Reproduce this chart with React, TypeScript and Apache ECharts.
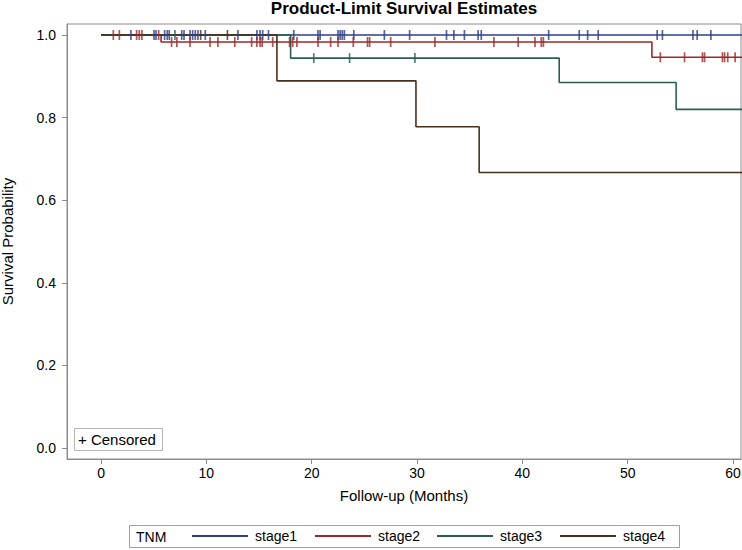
import React, { useEffect, useRef } from "react";
import * as echarts from "echarts";

const stageNames = ["stage1", "stage2", "stage3", "stage4"];
const stageColors = ["#2c3f88", "#9a2b2b", "#2a5e54", "#4a2f1d"];

// Kaplan-Meier step curves: [time, survival]
const stage1Curve: [number, number][] = [[0, 1], [61, 1]];
const stage2Curve: [number, number][] = [[0, 1], [5.7, 0.983], [52.3, 0.946], [61, 0.946]];
const stage3Curve: [number, number][] = [[0, 1], [18.0, 0.944], [43.5, 0.885], [54.6, 0.82], [61, 0.82]];
const stage4Curve: [number, number][] = [[0, 1], [16.7, 0.889], [29.9, 0.778], [35.9, 0.667], [61, 0.667]];

// Censored times
const stage1Censored = [2.84, 5.03, 5.22, 6.04, 6.29, 6.48, 7.66, 7.88, 8.45, 8.7, 8.95, 9.2, 9.9, 13.0, 14.8, 15.1, 15.35, 15.9, 18.3, 20.6, 20.8, 22.5, 22.7, 22.9, 23.1, 24.0, 26.9, 29.3, 32.8, 33.5, 34.5, 35.8, 36.1, 42.5, 45.4, 46.2, 47.2, 52.8, 53.3, 56.2, 56.6, 57.9];
const stage2Censored = [1.17, 1.74, 3.38, 3.63, 3.88, 5.47, 6.7, 7.2, 8.45, 10.35, 11.1, 12.7, 14.3, 14.8, 15.1, 15.3, 16.3, 17.9, 18.2, 18.6, 20.6, 21.8, 22.5, 23.95, 25.3, 25.5, 27.5, 31.7, 37.3, 39.6, 41.2, 41.8, 42.0, 53.1, 55.4, 57.1, 57.3, 59.0, 59.2, 59.5, 60.2];
const stage3Censored = [7.02, 20.2, 23.6, 29.8];
const stage4Censored = [9.46, 12.0];

const xTicks = [0, 10, 20, 30, 40, 50, 60];
const yTicks = [0, 0.2, 0.4, 0.6, 0.8, 1.0];

const curves = [stage1Curve, stage2Curve, stage3Curve, stage4Curve];
const censored = [stage1Censored, stage2Censored, stage3Censored, stage4Censored];

function levelAt(curve: [number, number][], t: number): number {
  let v = curve[0][1];
  for (const [x, y] of curve) {
    if (x <= t) v = y;
  }
  return v;
}

const FONT = "'Liberation Sans', Arial, Helvetica, sans-serif";
const legendLefts = [192, 315, 437, 560];

export default function App() {
  const ref = useRef<HTMLDivElement>(null);
  useEffect(() => {
    document.body.style.margin = "0";
    if (!ref.current) return;
    const chart = echarts.init(ref.current, null, { renderer: "svg" });
    const lineSeries = stageNames.map((name, i) => ({
      name,
      type: "line",
      step: "end",
      data: curves[i],
      showSymbol: false,
      symbol: "none",
      lineStyle: { color: stageColors[i], width: 1.6 },
      itemStyle: { color: stageColors[i] },
      clip: true,
      z: 3,
    }));
    const censorSeries = stageNames.map((name, i) => ({
      name: name + " censored",
      type: "scatter",
      data: censored[i].map((t) => [t, levelAt(curves[i], t)]),
      symbol: "rect",
      symbolSize: [1.7, 10],
      itemStyle: { color: stageColors[i] },
      z: 4,
    }));
    const legends = stageNames.map((name, i) => ({
      data: [name],
      left: legendLefts[i],
      top: 529,
      orient: "horizontal",
      icon: "rect",
      itemWidth: 56,
      itemHeight: 2,
      itemGap: 0,
      padding: 0,
      selectedMode: false,
      textStyle: { color: "#000", fontSize: 14, fontFamily: FONT, padding: [0, 0, 0, 2] },
    }));
    chart.setOption({
      animation: false,
      backgroundColor: "#fff",
      title: {
        text: "Product-Limit Survival Estimates",
        left: 404,
        textAlign: "center",
        top: 0,
        padding: 0,
        textStyle: { fontSize: 17, fontWeight: "bold", color: "#000", fontFamily: FONT },
      },
      legend: legends,
      grid: {
        left: 67,
        right: 1,
        top: 24,
        bottom: 91,
        containLabel: false,
        outerBoundsMode: "none",
        show: true,
        borderColor: "#8c8c8c",
        borderWidth: 1,
      },
      xAxis: {
        type: "value",
        min: -3.23,
        max: 60.76,
        name: "Follow-up (Months)",
        nameLocation: "middle",
        nameGap: 29,
        nameTextStyle: { fontSize: 15, color: "#000", fontFamily: FONT },
        axisLine: { show: true, onZero: false, lineStyle: { color: "#8c8c8c" } },
        axisTick: { show: true, length: 5, customValues: xTicks, lineStyle: { color: "#8c8c8c" } },
        axisLabel: { customValues: xTicks, fontSize: 14, color: "#000", fontFamily: FONT, margin: 7 },
        splitLine: { show: false },
      },
      yAxis: {
        type: "value",
        min: -0.0266,
        max: 1.0266,
        name: "Survival Probability",
        nameLocation: "middle",
        nameGap: 52,
        nameTextStyle: { fontSize: 15, color: "#000", fontFamily: FONT },
        axisLine: { show: true, onZero: false, lineStyle: { color: "#8c8c8c" } },
        axisTick: { show: true, length: 5, customValues: yTicks, lineStyle: { color: "#8c8c8c" } },
        axisLabel: {
          customValues: yTicks,
          fontSize: 14,
          color: "#000",
          fontFamily: FONT,
          margin: 11,
          formatter: (v: number) => v.toFixed(1),
        },
        splitLine: { show: false },
      },
      graphic: [
        {
          type: "rect",
          shape: { x: 74.5, y: 428.5, width: 88, height: 22 },
          style: { fill: "#fff", stroke: "#b4b4b4", lineWidth: 1 },
          z: 10,
        },
        {
          type: "text",
          x: 78,
          y: 439.5,
          style: { text: "+ Censored", fontSize: 15, fill: "#000", fontFamily: FONT, verticalAlign: "middle" },
          z: 11,
        },
        {
          type: "rect",
          shape: { x: 129.5, y: 525.5, width: 550, height: 22 },
          style: { fill: "none", stroke: "#a0a0a0", lineWidth: 1 },
          z: 10,
        },
        {
          type: "text",
          x: 136,
          y: 536.5,
          style: { text: "TNM", fontSize: 14, fill: "#000", fontFamily: FONT, verticalAlign: "middle" },
          z: 11,
        },
      ],
      series: [...lineSeries, ...censorSeries],
    });
    return () => chart.dispose();
  }, []);
  return <div ref={ref} style={{ width: 742, height: 550 }} />;
}
